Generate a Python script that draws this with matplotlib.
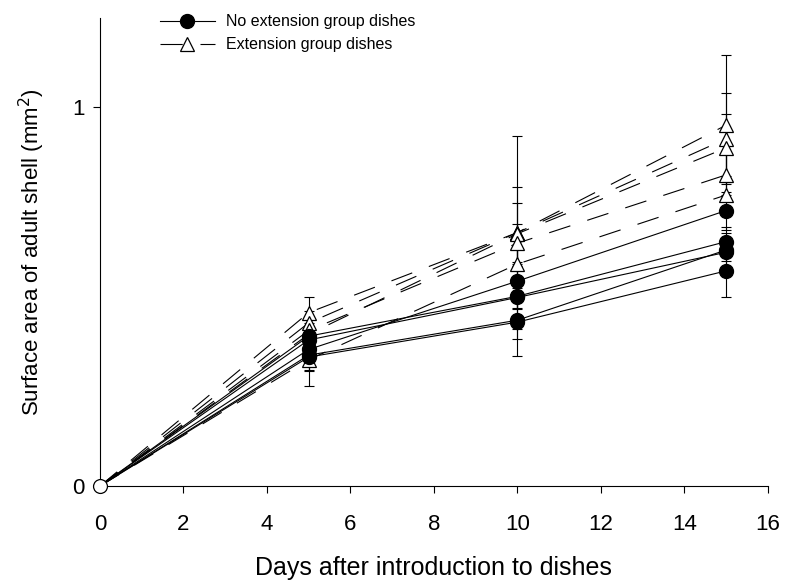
import numpy as np
import matplotlib
matplotlib.use("Agg")
import matplotlib.pyplot as plt

plt.rcParams.update({
    "font.family": ["Liberation Sans", "DejaVu Sans"],
    "font.size": 15,
})

# days after introduction
days = [0, 5, 10, 15]

# no extension group dishes (filled circles, solid lines)
no_ext = [
    [0, 0.360, 0.540, 0.726],
    [0, 0.395, 0.500, 0.644],
    [0, 0.385, 0.497, 0.616],
    [0, 0.345, 0.437, 0.622],
    [0, 0.340, 0.432, 0.567],
]
no_ext_err = [
    [0, 0.020, 0.040, 0.050],
    [0, 0.020, 0.030, 0.040],
    [0, 0.030, 0.030, 0.050],
    [0, 0.040, 0.050, 0.030],
    [0, 0.077, 0.090, 0.070],
]

# extension group dishes (open triangles, dashed lines)
ext = [
    [0, 0.457, 0.668, 0.951],
    [0, 0.430, 0.668, 0.915],
    [0, 0.400, 0.665, 0.891],
    [0, 0.410, 0.640, 0.820],
    [0, 0.333, 0.585, 0.767],
]
ext_err = [
    [0, 0.040, 0.255, 0.185],
    [0, 0.030, 0.120, 0.120],
    [0, 0.020, 0.080, 0.090],
    [0, 0.020, 0.050, 0.060],
    [0, 0.030, 0.040, 0.050],
]

fig = plt.figure(figsize=(7.85, 5.87), dpi=100)
ax = fig.add_axes([0.1274, 0.172, 0.8506, 0.797])

lw = 0.8
for vals, err in zip(ext, ext_err):
    ax.errorbar(days, vals, yerr=err, fmt="none", ecolor="black",
                elinewidth=lw, capsize=3.5, capthick=lw, zorder=2)
for vals, err in zip(no_ext, no_ext_err):
    ax.errorbar(days, vals, yerr=err, fmt="none", ecolor="black",
                elinewidth=lw, capsize=3.5, capthick=lw, zorder=2)

for i, vals in enumerate(ext):
    ax.plot(days, vals, color="black", lw=lw, dashes=(20, 16),
            marker="^", markersize=10, markerfacecolor="white",
            markeredgecolor="black", markeredgewidth=0.9, zorder=3,
            label="Extension group dishes" if i == 0 else None)
for i, vals in enumerate(no_ext):
    ax.plot(days, vals, color="black", lw=lw, marker="o", markersize=10,
            markerfacecolor="black", markeredgecolor="black",
            markevery=[1, 2, 3], zorder=4,
            label="No extension group dishes" if i == 0 else None)

# open marker at the origin
ax.plot(days[0], no_ext[0][0], marker="o", markersize=10, color="black",
        markerfacecolor="white", markeredgewidth=0.9, zorder=5, clip_on=False)

ax.set_xlim(0, 16)
ax.set_ylim(0, 1.233)
ax.set_xticks(np.arange(0, 17, 2))
ax.set_yticks([0, 1])
ax.spines["top"].set_visible(False)
ax.spines["right"].set_visible(False)
ax.spines["left"].set_linewidth(0.8)
ax.spines["bottom"].set_linewidth(0.8)
ax.tick_params(direction="out", length=5, width=0.8, labelsize=16)
ax.tick_params(axis="x", pad=15)
ax.tick_params(axis="y", pad=6)

ax.set_xlabel("Days after introduction to dishes", fontsize=18, labelpad=15)
ax.set_ylabel("Surface area of adult shell (mm$^2$)", fontsize=16, labelpad=18)

handles, labels = ax.get_legend_handles_labels()
order = [labels.index("No extension group dishes"), labels.index("Extension group dishes")]
leg = fig.legend([handles[j] for j in order], [labels[j] for j in order],
                 loc="upper left", bbox_to_anchor=(0.19, 0.995), frameon=False,
                 fontsize=11.5, handlelength=3.4, handletextpad=0.7,
                 labelspacing=0.5, borderpad=0.2)

fig.savefig("out.png", dpi=100)
